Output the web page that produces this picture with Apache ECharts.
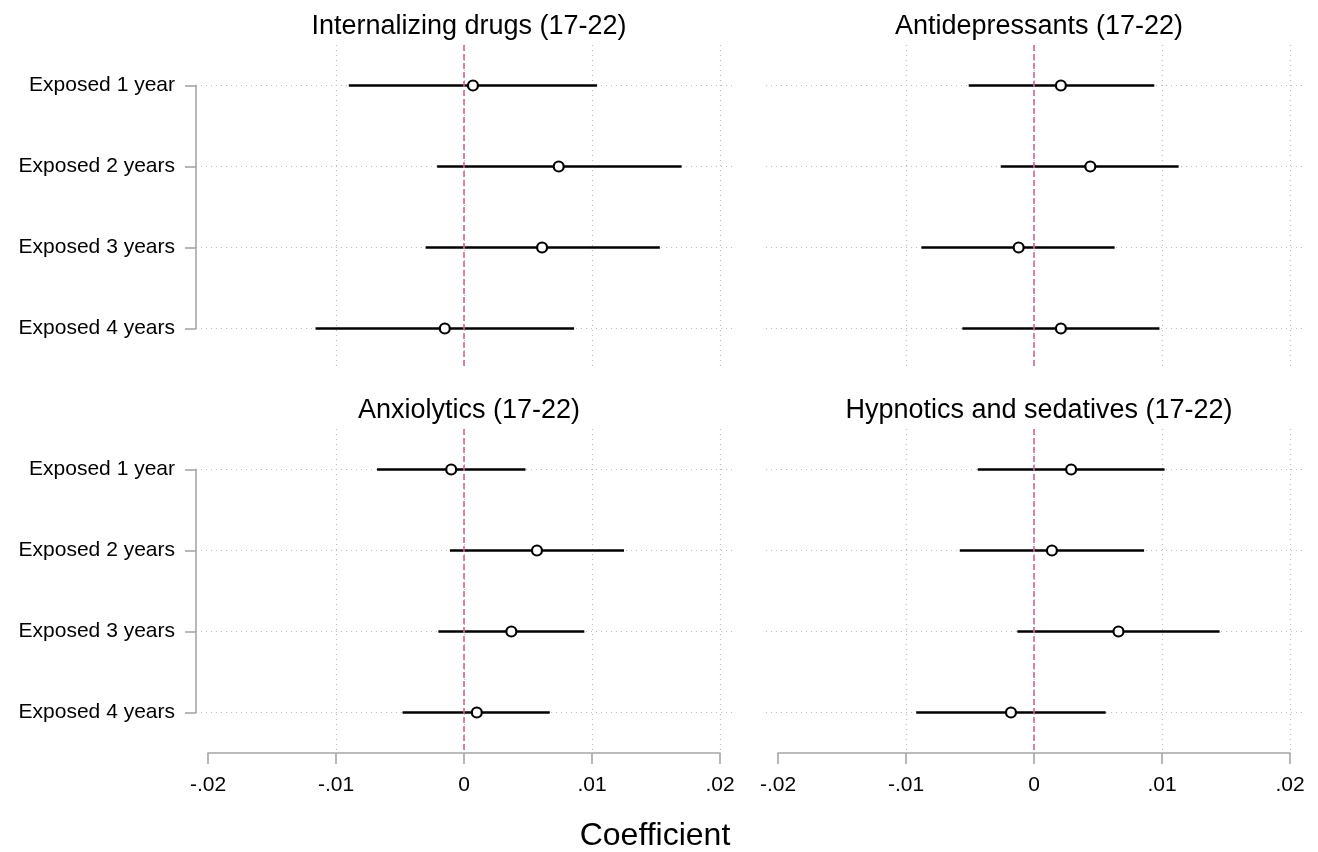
<!DOCTYPE html>
<html>
<head>
    <meta charset="utf-8">
    <title>Coefficient plot</title>
    <script src="https://cdn.jsdelivr.net/npm/echarts@6/dist/echarts.min.js"></script>
</head>
<body style="margin:0;background:#fff;">
<div id="main" style="width:1318px;height:852px;"></div>
<script type="text/javascript">
    // data
    var rows = ['Exposed 1 year', 'Exposed 2 years', 'Exposed 3 years', 'Exposed 4 years'];
    var panelTitles = ['Internalizing drugs (17-22)', 'Antidepressants (17-22)',
                       'Anxiolytics (17-22)', 'Hypnotics and sedatives (17-22)'];
    var xTickLabels = ['-.02', '-.01', '0', '.01', '.02'];

    var internalCoef = [0.0007, 0.0074, 0.0061, -0.0015];
    var internalLow  = [-0.0090, -0.0021, -0.0030, -0.0116];
    var internalHigh = [0.0104, 0.0170, 0.0153, 0.0086];

    var antidepCoef = [0.0021, 0.0044, -0.0012, 0.0021];
    var antidepLow  = [-0.0051, -0.0026, -0.0088, -0.0056];
    var antidepHigh = [0.0094, 0.0113, 0.0063, 0.0098];

    var anxioCoef = [-0.0010, 0.0057, 0.0037, 0.0010];
    var anxioLow  = [-0.0068, -0.0011, -0.0020, -0.0048];
    var anxioHigh = [0.0048, 0.0125, 0.0094, 0.0067];

    var hypnoCoef = [0.0029, 0.0014, 0.0066, -0.0018];
    var hypnoLow  = [-0.0044, -0.0058, -0.0013, -0.0092];
    var hypnoHigh = [0.0102, 0.0086, 0.0145, 0.0056];

    var panels = [
        {coef: internalCoef, low: internalLow, high: internalHigh},
        {coef: antidepCoef, low: antidepLow, high: antidepHigh},
        {coef: anxioCoef, low: anxioLow, high: anxioHigh},
        {coef: hypnoCoef, low: hypnoLow, high: hypnoHigh}
    ];

    var font = 'Liberation Sans, Arial, sans-serif';
    var axisGray = '#a6a6a6';
    var gridStyle = {color: '#bdbdbd', type: [1, 4], width: 1.2};

    var lefts = [208, 778];
    var tops = [45, 429];
    var plotW = 512, plotH = 324;

    var grids = [], xAxes = [], yAxes = [], series = [], titles = [];

    panels.forEach(function (p, i) {
        var col = i % 2, row = Math.floor(i / 2);
        var L = lefts[col], T = tops[row];
        var band = plotH / rows.length;

        // data grid
        grids.push({left: L, top: T, width: plotW, height: plotH});
        // grid for horizontal row lines and the y axis
        grids.push({left: L - 12, top: T + band / 2, width: plotW + 24, height: plotH - band});

        xAxes.push({
            type: 'value', gridIndex: 2 * i, min: -0.02, max: 0.02, interval: 0.01,
            axisLine: {show: row === 1, onZero: false, lineStyle: {color: axisGray, width: 1.6}},
            axisTick: {show: row === 1, length: 11, lineStyle: {color: axisGray, width: 1.6}},
            axisLabel: {
                show: row === 1, margin: 22, color: '#000', fontSize: 21, fontFamily: font,
                formatter: function (v) { return xTickLabels[Math.round(v * 100) + 2]; }
            },
            splitLine: {show: true, showMinLine: false, lineStyle: gridStyle}
        });
        xAxes.push({type: 'value', gridIndex: 2 * i + 1, show: false, min: 0, max: 1});

        yAxes.push({
            type: 'category', gridIndex: 2 * i, data: rows, inverse: true, show: false
        });
        yAxes.push({
            type: 'category', gridIndex: 2 * i + 1, data: rows, inverse: true,
            boundaryGap: false, offset: 5,
            axisLine: {show: col === 0, lineStyle: {color: axisGray, width: 1.6}},
            axisTick: {show: col === 0, length: 11, lineStyle: {color: axisGray, width: 1.6}},
            axisLabel: {show: col === 0, margin: 16, color: '#000', fontSize: 21, fontFamily: font},
            splitLine: {show: true, lineStyle: gridStyle}
        });

        titles.push({
            text: panelTitles[i], left: L + plotW / 2, top: row === 0 ? 8 : 392, textAlign: 'center',
            textStyle: {fontSize: 27, fontWeight: 'normal', color: '#000', fontFamily: font}
        });

        // confidence intervals
        series.push({
            type: 'custom', xAxisIndex: 2 * i, yAxisIndex: 2 * i, z: 3,
            data: p.low.map(function (lo, k) { return [lo, p.high[k], k]; }),
            renderItem: function (params, api) {
                var a = api.coord([api.value(0), api.value(2)]);
                var b = api.coord([api.value(1), api.value(2)]);
                return {
                    type: 'line',
                    shape: {x1: a[0], y1: a[1], x2: b[0], y2: b[1]},
                    style: {stroke: '#000', lineWidth: 2.4}
                };
            }
        });
        // point estimates + zero reference line
        series.push({
            type: 'scatter', xAxisIndex: 2 * i, yAxisIndex: 2 * i, z: 4,
            symbol: 'circle', symbolSize: 10,
            itemStyle: {color: '#fff', borderColor: '#000', borderWidth: 2.2, opacity: 1},
            data: p.coef.map(function (c, k) { return [c, k]; }),
            markLine: {
                silent: true, symbol: 'none', label: {show: false},
                lineStyle: {color: '#d4609f', type: [6, 3], width: 1.6},
                data: [{xAxis: 0}]
            }
        });
    });

    titles.push({
        text: 'Coefficient', left: 650, top: 815, textAlign: 'center',
        textStyle: {fontSize: 32, fontWeight: 'normal', color: '#000', fontFamily: font}
    });

    var myChart = echarts.init(document.getElementById('main'));
    var option = {
        backgroundColor: '#fff',
        animation: false,
        title: titles,
        grid: grids,
        xAxis: xAxes,
        yAxis: yAxes,
        series: series
    };
    myChart.setOption(option);
</script>
</body>
</html>
